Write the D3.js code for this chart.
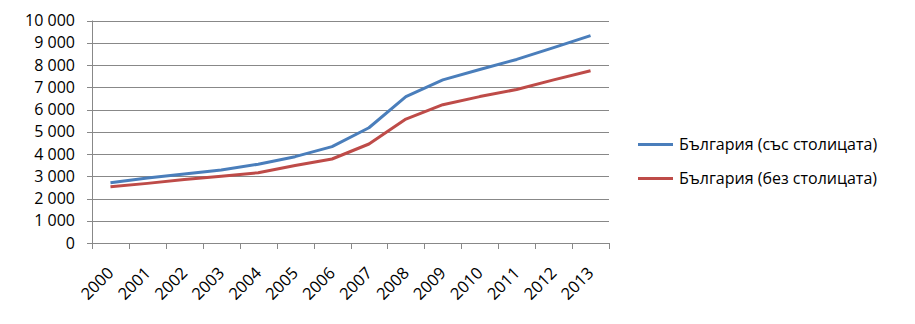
<!DOCTYPE html>
<html><head><meta charset="utf-8">
<script src="https://cdn.jsdelivr.net/npm/d3@7/dist/d3.min.js"></script>
<style>body{margin:0;background:#fff}svg{display:block}text{font-family:"Open Sans","Liberation Sans",sans-serif}</style>
</head><body>
<svg id="c" width="915" height="324"></svg>
<script>
const years = ["2000","2001","2002","2003","2004","2005","2006","2007","2008","2009","2010","2011","2012","2013"];
const withCapital = [2710,2920,3100,3280,3540,3880,4330,5180,6580,7330,7800,8250,8780,9320];
const withoutCapital = [2530,2680,2850,3000,3160,3480,3775,4450,5570,6215,6580,6900,7330,7745];
const seriesNames = ["България (със столицата)","България (без столицата)"];
const yTicks = [0,1000,2000,3000,4000,5000,6000,7000,8000,9000,10000];
const colors = ["#4a7ebb","#be4b48"];

const svg = d3.select("#c");
const pL = 92, pR = 609, pT = 20.5, pB = 243;
const x = d3.scaleBand().domain(years).range([pL, pR]);
const y = d3.scaleLinear().domain([0,10000]).range([pB, pT]);

// gridlines
svg.append("g").selectAll("line").data(yTicks).join("line")
  .attr("x1", pL-5).attr("x2", pR)
  .attr("y1", d => Math.round(y(d))+0.5).attr("y2", d => Math.round(y(d))+0.5)
  .attr("stroke", "#888").attr("stroke-width", 1);
// y axis line
svg.append("line").attr("x1", pL+0.5).attr("x2", pL+0.5).attr("y1", pT).attr("y2", pB)
  .attr("stroke","#888");
// x ticks
const tickXs = years.map(d => x(d)).concat([pR]);
svg.append("g").selectAll("line").data(tickXs).join("line")
  .attr("x1", d => Math.round(d)+0.5).attr("x2", d => Math.round(d)+0.5)
  .attr("y1", Math.round(pB)).attr("y2", Math.round(pB)+6)
  .attr("stroke","#888");
// y labels
svg.append("g").selectAll("text").data(yTicks).join("text")
  .attr("x", 75).attr("y", d => y(d)).attr("dy","0.35em")
  .attr("text-anchor","end").attr("font-size", 16).attr("fill","#000")
  .text(d => d3.format(",")(d).replace(/,/g, " "));
// x labels
svg.append("g").selectAll("text").data(years).join("text")
  .attr("transform", d => `translate(${x(d)+x.bandwidth()/2-4},266) rotate(-45)`)
  .attr("text-anchor","end").attr("dy","0.7em").attr("font-size", 16.5).attr("fill","#000")
  .text(d => d);

// lines
const line = d3.line().x((d,i) => x(years[i]) + x.bandwidth()/2).y(d => y(d));
[withCapital, withoutCapital].forEach((s,k) => {
  svg.append("path").datum(s).attr("d", line).attr("fill","none")
    .attr("stroke", colors[k]).attr("stroke-width", 3).attr("stroke-linejoin","round");
});

// legend
const legY = [144.5, 178.5];
seriesNames.forEach((n,k) => {
  svg.append("line").attr("x1", 638).attr("x2", 673).attr("y1", legY[k]).attr("y2", legY[k])
    .attr("stroke", colors[k]).attr("stroke-width", 3);
  svg.append("text").attr("x", 679).attr("y", legY[k]).attr("dy","0.35em")
    .attr("font-size", 16).attr("fill","#000").text(n);
});
</script>
</body></html>
